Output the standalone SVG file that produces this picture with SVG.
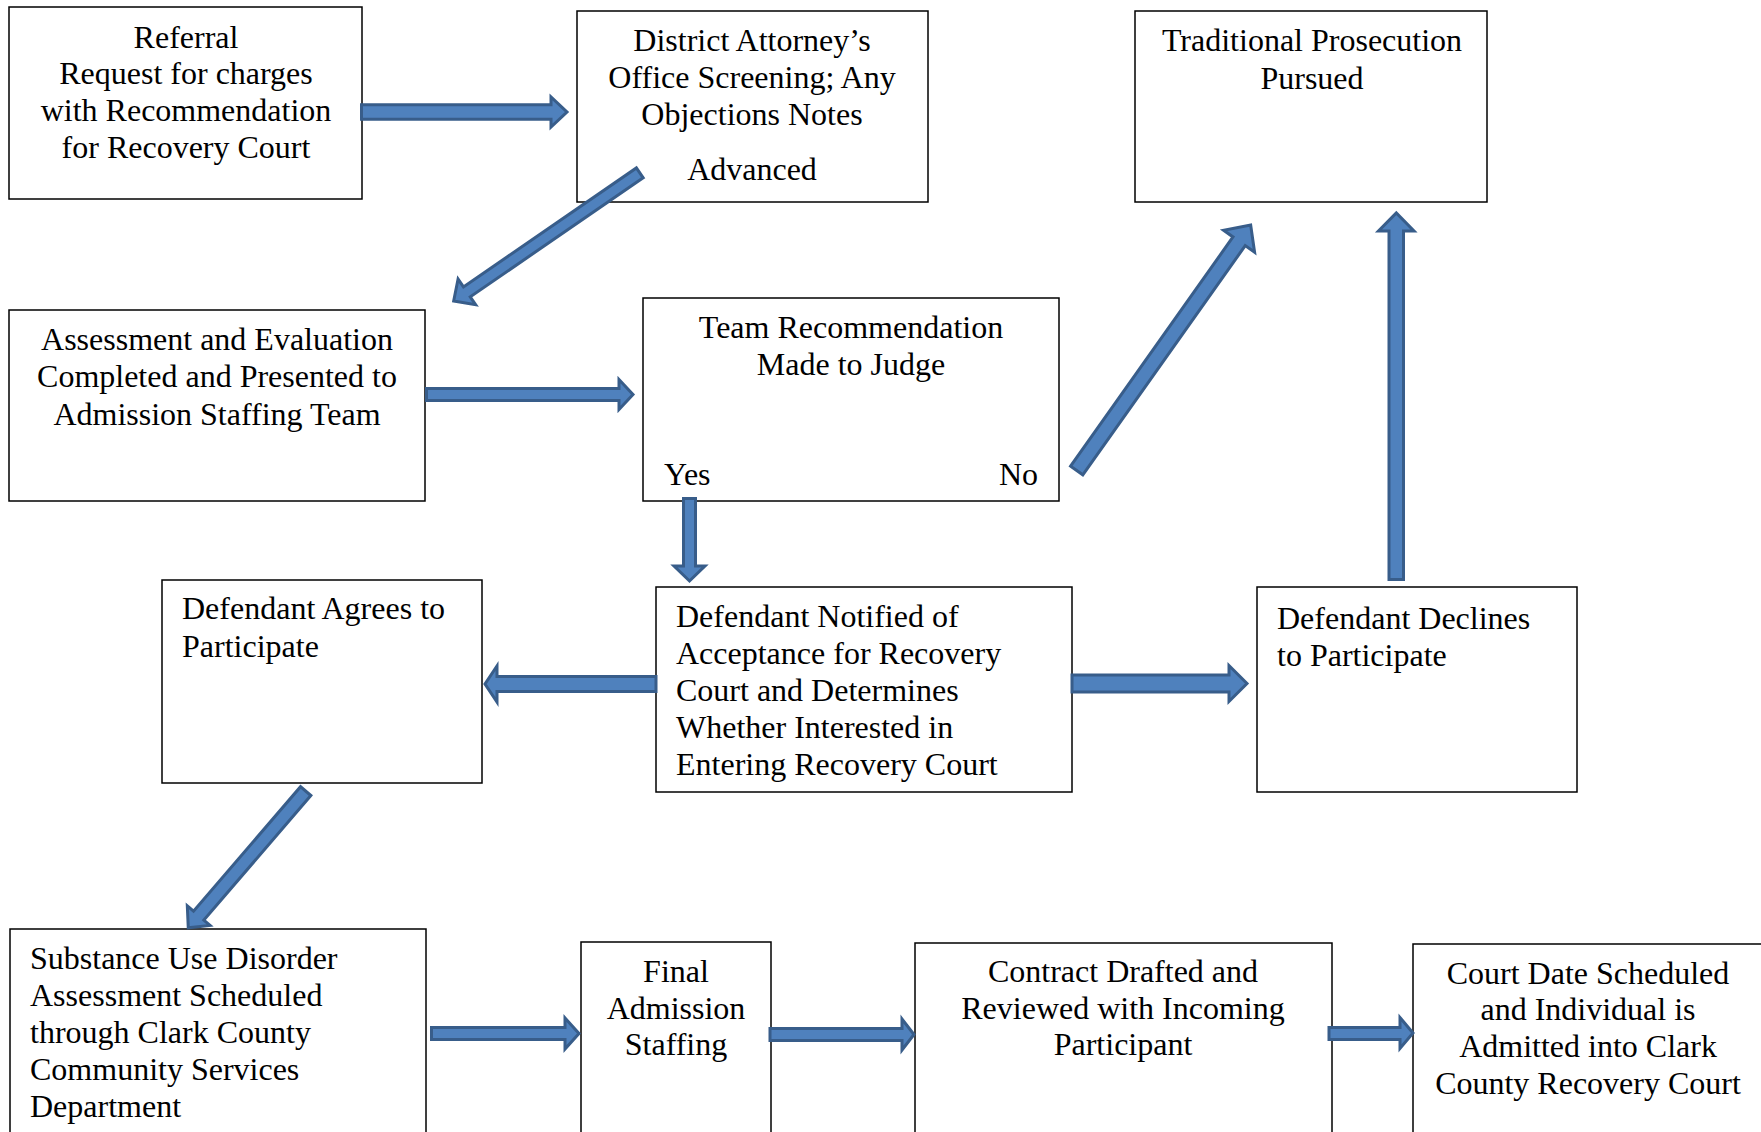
<svg xmlns="http://www.w3.org/2000/svg" width="1761" height="1132" viewBox="0 0 1761 1132">
<style>
.box{fill:#fff;stroke:#000;stroke-width:1.5}
.t{font-family:"Liberation Serif","Times New Roman",serif;font-size:32px;fill:#000}
.c{text-anchor:middle}
.arr{fill:#4F81BD;stroke:#385D8A;stroke-width:3;stroke-linejoin:miter}
</style>
<rect x="0" y="0" width="1761" height="1132" fill="#fff"/>
<g id="n-referral">
<rect class="box" x="9" y="7" width="353" height="192"/>
<text class="t c"><tspan x="186" y="47.5">Referral</tspan><tspan x="186" y="84">Request for charges</tspan><tspan x="186" y="121">with Recommendation</tspan><tspan x="186" y="157.5">for Recovery Court</tspan></text>
</g>
<g id="n-da">
<rect class="box" x="577" y="11" width="351" height="191"/>
<text class="t c"><tspan x="752" y="50.5">District Attorney’s</tspan><tspan x="752" y="87.5">Office Screening; Any</tspan><tspan x="752" y="124.5">Objections Notes</tspan><tspan x="752" y="179.5">Advanced</tspan></text>
</g>
<g id="n-traditional">
<rect class="box" x="1135" y="11" width="352" height="191"/>
<text class="t c"><tspan x="1312" y="50.5">Traditional Prosecution</tspan><tspan x="1312" y="88.5">Pursued</tspan></text>
</g>
<g id="n-assessment">
<rect class="box" x="9" y="310" width="416" height="191"/>
<text class="t c"><tspan x="217" y="349.5">Assessment and Evaluation</tspan><tspan x="217" y="387">Completed and Presented to</tspan><tspan x="217" y="424.5">Admission Staffing Team</tspan></text>
</g>
<g id="n-team">
<rect class="box" x="643" y="298" width="416" height="203"/>
<text class="t c"><tspan x="851" y="338">Team Recommendation</tspan><tspan x="851" y="374.5">Made to Judge</tspan></text>
<text class="t" x="664" y="485">Yes</text>
<text class="t" x="1038" y="485" text-anchor="end">No</text>
</g>
<g id="n-agrees">
<rect class="box" x="162" y="580" width="320" height="203"/>
<text class="t"><tspan x="182" y="618.5">Defendant Agrees to</tspan><tspan x="182" y="656.5">Participate</tspan></text>
</g>
<g id="n-notified">
<rect class="box" x="656" y="587" width="416" height="205"/>
<text class="t"><tspan x="676" y="627">Defendant Notified of</tspan><tspan x="676" y="664">Acceptance for Recovery</tspan><tspan x="676" y="701">Court and Determines</tspan><tspan x="676" y="738">Whether Interested in</tspan><tspan x="676" y="774.5">Entering Recovery Court</tspan></text>
</g>
<g id="n-declines">
<rect class="box" x="1257" y="587" width="320" height="205"/>
<text class="t"><tspan x="1277" y="628.5">Defendant Declines</tspan><tspan x="1277" y="665.5">to Participate</tspan></text>
</g>
<g id="n-substance">
<rect class="box" x="10" y="929" width="416" height="215"/>
<text class="t"><tspan x="30" y="969">Substance Use Disorder</tspan><tspan x="30" y="1006">Assessment Scheduled</tspan><tspan x="30" y="1043">through Clark County</tspan><tspan x="30" y="1080">Community Services</tspan><tspan x="30" y="1117">Department</tspan></text>
</g>
<g id="n-final">
<rect class="box" x="581" y="942" width="190" height="202"/>
<text class="t c"><tspan x="676" y="981.5">Final</tspan><tspan x="676" y="1018.5">Admission</tspan><tspan x="676" y="1055">Staffing</tspan></text>
</g>
<g id="n-contract">
<rect class="box" x="915" y="943" width="417" height="201"/>
<text class="t c"><tspan x="1123" y="981.5">Contract Drafted and</tspan><tspan x="1123" y="1018.5">Reviewed with Incoming</tspan><tspan x="1123" y="1055">Participant</tspan></text>
</g>
<g id="n-court">
<rect class="box" x="1413" y="944" width="360" height="200"/>
<text class="t c"><tspan x="1588" y="983.5">Court Date Scheduled</tspan><tspan x="1588" y="1020">and Individual is</tspan><tspan x="1588" y="1057">Admitted into Clark</tspan><tspan x="1588" y="1094">County Recovery Court</tspan></text>
</g>
<g id="connectors">
<path class="arr" d="M361.5,104.8 H551 V97 L567,112 L551,127 V119.2 H361.5 Z"/>
<path class="arr" d="M0,-6 H209.9 V-15.5 L225.9,0 L209.9,15.5 V6 H0 Z" transform="translate(639.8,172.9) rotate(145.48)"/>
<path class="arr" d="M426.5,388.5 H619 V379.5 L633,394.5 L619,409.5 V400.5 H426.5 Z"/>
<path class="arr" d="M683.5,498.5 H695.5 V566 H705 L689.5,581 L674,566 H683.5 Z"/>
<path class="arr" d="M0,-7.5 H280.9 V-19 L300.9,0 L280.9,19 V7.5 H0 Z" transform="translate(1076.7,470.5) rotate(-54.68)"/>
<path class="arr" d="M656,676.5 H497 V666 L485,684 L497,702 V691.5 H656 Z"/>
<path class="arr" d="M1072,675 H1229 V665.5 L1247,683.5 L1229,701.5 V692 H1072 Z"/>
<path class="arr" d="M1389,579.5 V231 H1378.5 L1396.3,213 L1414,231 H1403.5 V579.5 Z"/>
<path class="arr" d="M0,-6.8 H164.2 V-15 L180.2,0 L164.2,15 V6.8 H0 Z" transform="translate(305.7,791.1) rotate(130.67)"/>
<path class="arr" d="M431.5,1027.5 H565 V1018 L579,1033.5 L565,1049 V1039.5 H431.5 Z"/>
<path class="arr" d="M770,1028.5 H902 V1019 L914,1034.5 L902,1050 V1040.5 H770 Z"/>
<path class="arr" d="M1329,1027.5 H1400 V1017.5 L1413,1033 L1400,1048.5 V1039.5 H1329 Z"/>
</g>
</svg>
